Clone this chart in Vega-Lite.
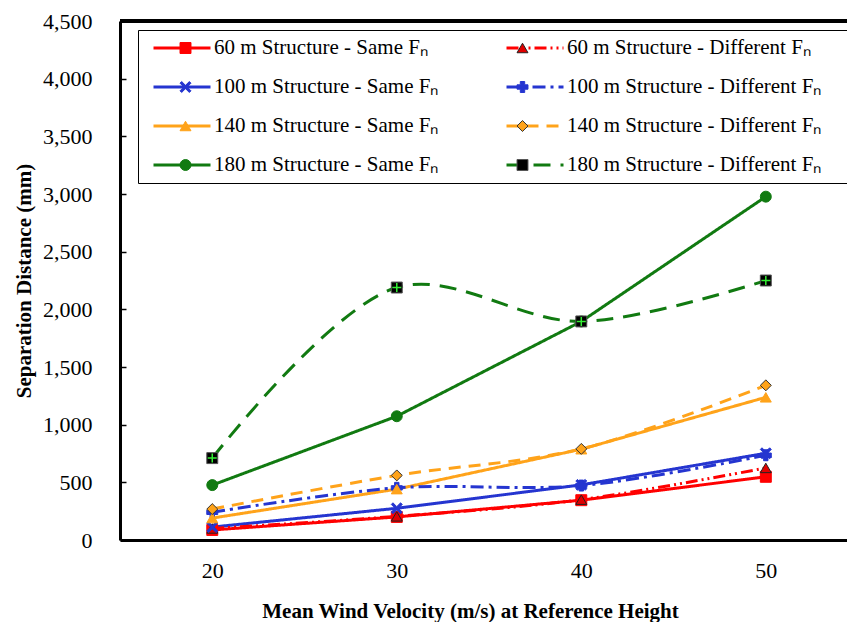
{
  "$schema": "https://vega.github.io/schema/vega-lite/v6.json",
  "width": 727,
  "height": 519,
  "autosize": {"type": "none"},
  "padding": {"left": 120, "top": 21, "right": 0, "bottom": 82},
  "background": "white",
  "config": {
    "view": {"stroke": null},
    "font": "Liberation Serif",
    "axis": {"grid": false, "labelFont": "Liberation Serif", "titleFont": "Liberation Serif", "labelColor": "black", "titleColor": "black", "domainColor": "black", "tickColor": "black"}
  },
  "datasets": {
    "pts": [
      {"v": 20, "d": 87, "g": "Same", "series": "60 m Structure - Same Fₙ", "marker": "60 m Structure - Same Fₙ "},
      {"v": 30, "d": 200, "g": "Same", "series": "60 m Structure - Same Fₙ", "marker": "60 m Structure - Same Fₙ "},
      {"v": 40, "d": 345, "g": "Same", "series": "60 m Structure - Same Fₙ", "marker": "60 m Structure - Same Fₙ "},
      {"v": 50, "d": 548, "g": "Same", "series": "60 m Structure - Same Fₙ", "marker": "60 m Structure - Same Fₙ "},
      {"v": 20, "d": 100, "g": "Diff", "series": "60 m Structure - Different Fₙ", "marker": "60 m Structure - Different Fₙ "},
      {"v": 30, "d": 205, "g": "Diff", "series": "60 m Structure - Different Fₙ", "marker": "60 m Structure - Different Fₙ "},
      {"v": 40, "d": 350, "g": "Diff", "series": "60 m Structure - Different Fₙ", "marker": "60 m Structure - Different Fₙ "},
      {"v": 50, "d": 625, "g": "Diff", "series": "60 m Structure - Different Fₙ", "marker": "60 m Structure - Different Fₙ "},
      {"v": 20, "d": 112, "g": "Same", "series": "100 m Structure - Same Fₙ", "marker": "100 m Structure - Same Fₙ "},
      {"v": 30, "d": 275, "g": "Same", "series": "100 m Structure - Same Fₙ", "marker": "100 m Structure - Same Fₙ "},
      {"v": 40, "d": 478, "g": "Same", "series": "100 m Structure - Same Fₙ", "marker": "100 m Structure - Same Fₙ "},
      {"v": 50, "d": 752, "g": "Same", "series": "100 m Structure - Same Fₙ", "marker": "100 m Structure - Same Fₙ "},
      {"v": 20, "d": 240, "g": "Diff", "series": "100 m Structure - Different Fₙ", "marker": "100 m Structure - Different Fₙ "},
      {"v": 30, "d": 452, "g": "Diff", "series": "100 m Structure - Different Fₙ", "marker": "100 m Structure - Different Fₙ "},
      {"v": 40, "d": 472, "g": "Diff", "series": "100 m Structure - Different Fₙ", "marker": "100 m Structure - Different Fₙ "},
      {"v": 50, "d": 735, "g": "Diff", "series": "100 m Structure - Different Fₙ", "marker": "100 m Structure - Different Fₙ "},
      {"v": 20, "d": 190, "g": "Same", "series": "140 m Structure - Same Fₙ", "marker": "140 m Structure - Same Fₙ "},
      {"v": 30, "d": 441, "g": "Same", "series": "140 m Structure - Same Fₙ", "marker": "140 m Structure - Same Fₙ "},
      {"v": 40, "d": 787, "g": "Same", "series": "140 m Structure - Same Fₙ", "marker": "140 m Structure - Same Fₙ "},
      {"v": 50, "d": 1237, "g": "Same", "series": "140 m Structure - Same Fₙ", "marker": "140 m Structure - Same Fₙ "},
      {"v": 20, "d": 268, "g": "Diff", "series": "140 m Structure - Different Fₙ", "marker": "140 m Structure - Different Fₙ "},
      {"v": 30, "d": 560, "g": "Diff", "series": "140 m Structure - Different Fₙ", "marker": "140 m Structure - Different Fₙ "},
      {"v": 40, "d": 790, "g": "Diff", "series": "140 m Structure - Different Fₙ", "marker": "140 m Structure - Different Fₙ "},
      {"v": 50, "d": 1341, "g": "Diff", "series": "140 m Structure - Different Fₙ", "marker": "140 m Structure - Different Fₙ "},
      {"v": 20, "d": 476, "g": "Same", "series": "180 m Structure - Same Fₙ", "marker": "180 m Structure - Same Fₙ "},
      {"v": 30, "d": 1073, "g": "Same", "series": "180 m Structure - Same Fₙ", "marker": "180 m Structure - Same Fₙ "},
      {"v": 40, "d": 1895, "g": "Same", "series": "180 m Structure - Same Fₙ", "marker": "180 m Structure - Same Fₙ "},
      {"v": 50, "d": 2977, "g": "Same", "series": "180 m Structure - Same Fₙ", "marker": "180 m Structure - Same Fₙ "},
      {"v": 20, "d": 710, "g": "Diff", "series": "180 m Structure - Different Fₙ", "marker": "180 m Structure - Different Fₙ "},
      {"v": 30, "d": 2189, "g": "Diff", "series": "180 m Structure - Different Fₙ", "marker": "180 m Structure - Different Fₙ "},
      {"v": 40, "d": 1895, "g": "Diff", "series": "180 m Structure - Different Fₙ", "marker": "180 m Structure - Different Fₙ "},
      {"v": 50, "d": 2250, "g": "Diff", "series": "180 m Structure - Different Fₙ", "marker": "180 m Structure - Different Fₙ "}
    ]
  },
  "data": {"name": "pts"},
  "encoding": {
    "x": {
      "field": "v", "type": "quantitative",
      "scale": {"domain": [15, 54.4], "nice": false, "zero": false},
      "axis": {"values": [20, 30, 40, 50], "ticks": false, "domainWidth": 3, "labelFontSize": 22, "labelPadding": 20,
        "title": "Mean Wind Velocity (m/s) at Reference Height", "titleFontSize": 21, "titleFontWeight": "bold",
        "titleX": 350, "titleY": 77, "titleBaseline": "alphabetic", "titleAlign": "center"}
    },
    "y": {
      "field": "d", "type": "quantitative",
      "scale": {"domain": [0, 4500], "nice": false},
      "axis": {"values": [0, 500, 1000, 1500, 2000, 2500, 3000, 3500, 4000, 4500], "format": ",.0f", "tickSize": -6, "tickWidth": 1.5, "domainWidth": 3,
        "labelFontSize": 22, "labelPadding": 34,
        "title": "Separation Distance (mm)", "titleFontSize": 21, "titleFontWeight": "bold",
        "titleAngle": -90, "titleX": -90, "titleY": 259.5, "titleBaseline": "alphabetic", "titleAlign": "center"}
    }
  },
  "layer": [
    {
      "transform": [{"filter": "datum.g == 'Same'"}],
      "mark": {"type": "line", "strokeWidth": 3},
      "encoding": {
        "color": {"field": "series", "type": "nominal",
          "scale": {"domain": ["60 m Structure - Same Fₙ", "60 m Structure - Different Fₙ", "100 m Structure - Same Fₙ", "100 m Structure - Different Fₙ", "140 m Structure - Same Fₙ", "140 m Structure - Different Fₙ", "180 m Structure - Same Fₙ", "180 m Structure - Different Fₙ"],
            "range": ["#ff0000", "#ff0000", "#2535d0", "#2535d0", "#ffa31a", "#ffa31a", "#117a11", "#117a11"]},
          "legend": {"orient": "none", "legendX": 18, "legendY": 9, "columns": 2, "direction": "horizontal", "title": null,
            "strokeColor": "black", "fillColor": "white", "padding": 8,
            "symbolType": "stroke", "symbolSize": 3249, "symbolStrokeWidth": 3, "symbolOffset": 6,
            "labelFont": "Liberation Serif", "labelFontSize": 21, "labelColor": "black", "labelOffset": 2, "labelLimit": 400,
            "labelExpr": "indexof(datum.label, 'Different') >= 0 ? datum.label + '\u00a0\u00a0\u00a0\u00a0\u200b' : datum.label",
            "columnPadding": 60, "rowPadding": 18, "clipHeight": 20}},
        "strokeDash": {"field": "series", "type": "nominal",
          "scale": {"domain": ["60 m Structure - Same Fₙ", "60 m Structure - Different Fₙ", "100 m Structure - Same Fₙ", "100 m Structure - Different Fₙ", "140 m Structure - Same Fₙ", "140 m Structure - Different Fₙ", "180 m Structure - Same Fₙ", "180 m Structure - Different Fₙ"],
            "range": [[1, 0], [12, 4, 2, 4, 2, 4], [1, 0], [13, 5, 3, 5], [1, 0], [12, 8], [1, 0], [17, 10]]}}
      }
    },
    {
      "transform": [{"filter": "datum.g == 'Diff'"}],
      "mark": {"type": "line", "strokeWidth": 3, "interpolate": "catmull-rom"},
      "encoding": {
        "color": {"field": "series", "type": "nominal"},
        "strokeDash": {"field": "series", "type": "nominal"}
      }
    },
    {
      "mark": {"type": "point", "filled": true, "size": 120, "opacity": 1, "strokeWidth": 1},
      "encoding": {
        "shape": {"field": "marker", "type": "nominal",
          "scale": {"domain": ["60 m Structure - Same Fₙ ", "60 m Structure - Different Fₙ ", "100 m Structure - Same Fₙ ", "100 m Structure - Different Fₙ ", "140 m Structure - Same Fₙ ", "140 m Structure - Different Fₙ ", "180 m Structure - Same Fₙ ", "180 m Structure - Different Fₙ "],
            "range": ["square", "triangle-up", "M-1,-0.7L-0.7,-1L0,-0.3L0.7,-1L1,-0.7L0.3,0L1,0.7L0.7,1L0,0.3L-0.7,1L-1,0.7L-0.3,0Z", "cross", "triangle-up", "diamond", "circle", "square"]},
          "legend": {"orient": "none", "legendX": 18, "legendY": 9, "columns": 2, "direction": "horizontal", "title": null,
            "padding": 8, "symbolSize": 120, "symbolOffset": 29, "symbolStrokeWidth": 1,
            "labelFont": "Liberation Serif", "labelFontSize": 21, "labelColor": "transparent", "labelOffset": 5, "labelLimit": 400,
            "labelExpr": "''",
            "columnPadding": 282, "rowPadding": 18, "clipHeight": 20}},
        "fill": {"field": "marker", "type": "nominal",
          "scale": {"domain": ["60 m Structure - Same Fₙ ", "60 m Structure - Different Fₙ ", "100 m Structure - Same Fₙ ", "100 m Structure - Different Fₙ ", "140 m Structure - Same Fₙ ", "140 m Structure - Different Fₙ ", "180 m Structure - Same Fₙ ", "180 m Structure - Different Fₙ "],
            "range": ["#ff0000", "#e00000", "#2535d0", "#2535d0", "#ffa31a", "#ffa31a", "#117a11", "#000000"]}},
        "stroke": {"field": "marker", "type": "nominal",
          "scale": {"domain": ["60 m Structure - Same Fₙ ", "60 m Structure - Different Fₙ ", "100 m Structure - Same Fₙ ", "100 m Structure - Different Fₙ ", "140 m Structure - Same Fₙ ", "140 m Structure - Different Fₙ ", "180 m Structure - Same Fₙ ", "180 m Structure - Different Fₙ "],
            "range": ["#ff0000", "#222222", "#2535d0", "#2535d0", "#ffa31a", "#333333", "#117a11", "#555555"]}}
      }
    },
    {
      "transform": [{"filter": "datum.g == 'Diff' && indexof(datum.series, '180') == 0"}],
      "mark": {"type": "point", "filled": false, "shape": "M-1,0L1,0M0,-1L0,1", "size": 81, "stroke": "#33ee33", "strokeWidth": 1.5, "opacity": 1},
      "encoding": {}
    },
    {
      "mark": {"type": "rule", "strokeWidth": 3, "color": "black"},
      "encoding": {"y": {"datum": 4500}, "x": null}
    }
  ]
}
